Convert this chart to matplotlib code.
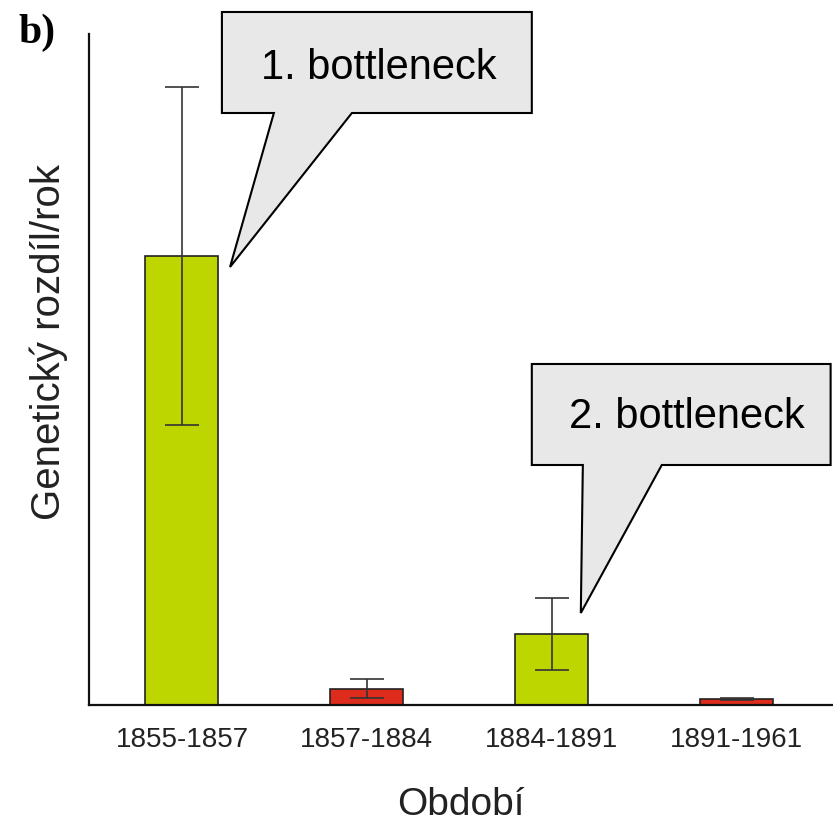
import matplotlib.pyplot as plt
from matplotlib.patches import Polygon
import numpy as np

plt.rcParams['font.family'] = ['Liberation Sans', 'DejaVu Sans']

periods = ["1855-1857", "1857-1884", "1884-1891", "1891-1961"]
diff_per_year = [4.49, 0.16, 0.71, 0.06]
diff_err = [1.69, 0.095, 0.36, 0.012]
bar_colors = ["#bed600", "#dd2c1c", "#bed600", "#dd2c1c"]


def callout(ax, box, base, tip, text, dx=0.0, dy=0.0):
    # speech-bubble: rectangle with a wedge pointing at a bar
    x0, x1, y0, y1 = box
    pts = [(x0, y1), (x1, y1), (x1, y0), (base[1], y0), tip, (base[0], y0), (x0, y0)]
    ax.add_patch(Polygon(pts, closed=True, facecolor="#e8e8e8", edgecolor="black",
                         linewidth=1.5, clip_on=False, zorder=5))
    ax.text((x0 + x1) / 2 + dx, (y0 + y1) / 2 + dy, text, ha="center", va="center",
            fontsize=30, zorder=6, clip_on=False)


fig = plt.figure(figsize=(8.33, 8.21), dpi=100)
ax = fig.add_axes([0.1068, 0.1413, 0.893, 0.8173])

x = np.arange(len(periods))
ax.bar(x, diff_per_year, width=0.395, color=bar_colors, edgecolor="#222222", linewidth=1.2,
       yerr=diff_err, error_kw=dict(ecolor="#333333", elinewidth=1.2, capsize=12, capthick=1.2))

ax.set_xlim(-0.503, 3.52)
ax.set_ylim(0, 6.71)
ax.set_xticks(x)
ax.set_xticklabels(periods, fontsize=20, color="#222222")
ax.set_yticks([])
ax.tick_params(axis="x", length=0, pad=16)
for s in ["top", "right"]:
    ax.spines[s].set_visible(False)
for s in ["left", "bottom"]:
    ax.spines[s].set_linewidth(1.6)
    ax.spines[s].set_color("#111111")

ax.set_xlabel("Období", fontsize=28, color="#222222", labelpad=24)
ax.set_ylabel("Genetický rozdíl/rok", fontsize=29, color="#222222")
ax.yaxis.set_label_coords(-0.028, 0.541)

callout(ax, (0.216, 1.892, 5.92, 6.93), (0.497, 0.919),
        (0.26, diff_per_year[0] - 0.11), "1. bottleneck", dx=0.01, dy=-0.06)
callout(ax, (1.892, 3.508, 2.40, 3.41), (2.168, 2.595),
        (2.157, diff_per_year[2] + diff_err[2] - 0.15), "2. bottleneck", dx=0.03, dy=-0.03)

fig.text(0.022, 0.9476, "b)", fontsize=30, fontweight="bold",
         family="Liberation Serif", va="baseline", ha="left")

fig.savefig("out.png", dpi=100)
